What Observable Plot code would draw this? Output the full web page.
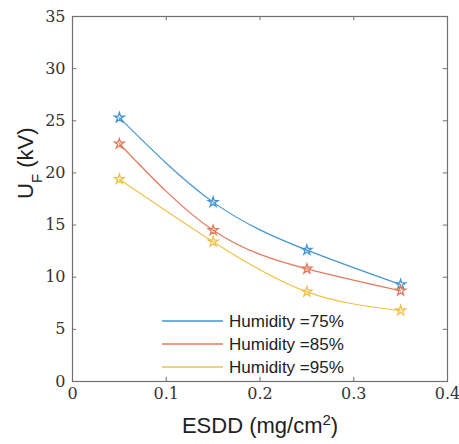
<!DOCTYPE html>
<html>
<head>
<meta charset="utf-8">
<script src="https://cdn.jsdelivr.net/npm/d3@7"></script>
<script src="https://cdn.jsdelivr.net/npm/@observablehq/plot@0.6"></script>
<style>
  html, body { margin: 0; padding: 0; background: #fff; }
  #chart svg { display: block; }
</style>
</head>
<body>
<div id="chart"></div>
<script>
const esdd = [0.05, 0.15, 0.25, 0.35];
const seriesNames = ["Humidity =75%", "Humidity =85%", "Humidity =95%"];
const uf75 = [25.3, 17.2, 12.6, 9.3];
const uf85 = [22.8, 14.5, 10.8, 8.7];
const uf95 = [19.4, 13.4, 8.6, 6.8];
const colors = ["#4596cf", "#e27a5c", "#eec24c"];
const xTicks = [0, 0.1, 0.2, 0.3, 0.4];
const yTicks = [0, 5, 10, 15, 20, 25, 30, 35];

const valuesBySeries = [uf75, uf85, uf95];
const data = [];
seriesNames.forEach((s, i) => esdd.forEach((x, j) => data.push({series: s, x, y: valuesBySeries[i][j]})));

const serif = "DejaVu Serif";
const sans = "Liberation Sans";
const axisColor = "#707070";
const labelColor = "#333";

const plot = Plot.plot({
  width: 459,
  height: 444,
  marginLeft: 72,
  marginRight: 12,
  marginTop: 16,
  marginBottom: 63,
  style: {background: "#fff"},
  x: {domain: [0, 0.4], axis: null},
  y: {domain: [0, 35], axis: null},
  color: {domain: seriesNames, range: colors},
  marks: [
    Plot.frame({stroke: axisColor, strokeWidth: 1.2}),
    // inward tick marks on all four sides
    Plot.ruleX(xTicks, {x: d => d, y1: 0, y2: 0.4, stroke: axisColor}),
    Plot.ruleX(xTicks, {x: d => d, y1: 34.6, y2: 35, stroke: axisColor}),
    Plot.ruleY(yTicks, {y: d => d, x1: 0, x2: 0.0045, stroke: axisColor}),
    Plot.ruleY(yTicks, {y: d => d, x1: 0.3955, x2: 0.4, stroke: axisColor}),
    // tick labels
    Plot.text(xTicks, {x: d => d, frameAnchor: "bottom", dy: 17, text: d => d === 0 ? "0" : String(d),
      fill: labelColor, fontFamily: serif, fontSize: 16}),
    Plot.text(yTicks, {y: d => d, frameAnchor: "left", dx: -7, textAnchor: "end", text: d => String(d),
      fill: labelColor, fontFamily: serif, fontSize: 16}),
    Plot.line(data, {x: "x", y: "y", stroke: "series", strokeWidth: 1.2, curve: "natural"}),
    Plot.dot(data, {x: "x", y: "y", stroke: "series", symbol: "star", r: 3.1, strokeWidth: 1.3, fill: "none"}),
    Plot.text(["ESDD (mg/cm2)"], {frameAnchor: "bottom", dy: 51, fill: "#222", fontFamily: sans, fontSize: 22}),
    Plot.text(["UF (kV)"], {frameAnchor: "left", dx: -47, rotate: -90, fill: "#222", fontFamily: sans, fontSize: 22})
  ]
});

document.getElementById("chart").appendChild(plot);
const svg = d3.select(plot);

svg.selectAll("text").each(function() {
  const t = d3.select(this);
  const s = t.text();
  if (s === "ESDD (mg/cm2)") t.html('ESDD (mg/cm<tspan baseline-shift="super" font-size="15">2</tspan>)');
  else if (s === "UF (kV)") t.html('U<tspan baseline-shift="sub" font-size="15">F</tspan> (kV)');
});

// legend (inside the plot, lower middle, no border)
const legend = svg.append("g").attr("font-family", sans).attr("font-size", 17)
  .attr("fill", "#222").attr("text-anchor", "start");
seriesNames.forEach((name, i) => {
  const yy = 321 + i * 23;
  legend.append("line").attr("x1", 162).attr("x2", 223).attr("y1", yy).attr("y2", yy)
    .attr("stroke", colors[i]).attr("stroke-width", 1.3);
  legend.append("text").attr("x", 229).attr("y", yy).attr("dy", "0.35em").text(name);
});
</script>
</body>
</html>
